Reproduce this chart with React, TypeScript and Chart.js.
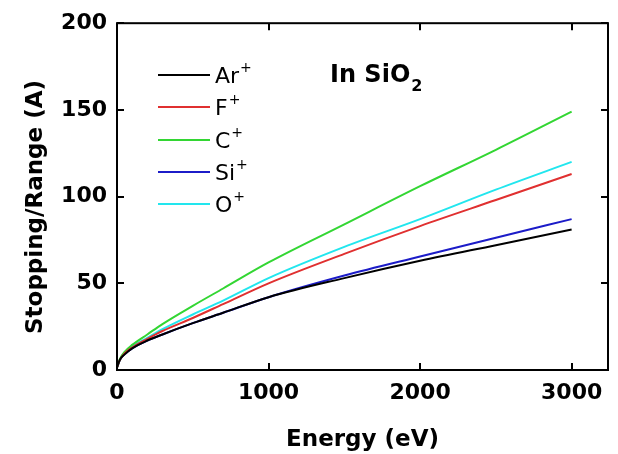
import React, { useEffect, useRef } from 'react';
import { Chart, registerables } from 'chart.js';

Chart.register(...registerables);

const energies = [0, 20, 50, 100, 200, 300, 500, 700, 1000, 1500, 2000, 2500, 3000];
const arValues = [1.5, 6, 9, 12.5, 17, 20.5, 27, 33, 42, 53, 63, 72, 81];
const fValues = [1.5, 6, 9.5, 13, 18, 22.5, 30, 38, 50, 67, 83, 98, 113];
const cValues = [1.5, 6.5, 10.5, 14.5, 20.5, 26.5, 37, 47, 62, 84, 106, 127, 149];
const siValues = [1.5, 6, 9, 12.5, 17, 20.5, 27, 33, 42, 54.5, 65.5, 76.3, 87];
const oValues = [1.5, 6, 10, 13.5, 18.5, 23.5, 32, 40, 53, 71, 87, 104, 120];

const seriesNames = ['Ar', 'F', 'C', 'Si', 'O'];
const seriesColors = ['#000000', '#e03030', '#33d633', '#1c1cc8', '#22e6ee'];
const seriesValues = [arValues, fValues, cValues, siValues, oValues];

const xTicks = [0, 1000, 2000, 3000];
const yTicks = [0, 50, 100, 150, 200];
const xTitle = 'Energy (eV)';
const yTitle = 'Stopping/Range (A)';
const noteMain = 'In SiO';
const noteSub = '2';

const decorPlugin = {
  id: 'decor',
  afterDraw(chart: any) {
    const ctx = chart.ctx as CanvasRenderingContext2D;
    const { left, right, top, bottom } = chart.chartArea;
    const xs = chart.scales.x;
    const ys = chart.scales.y;
    ctx.save();
    // frame
    ctx.strokeStyle = '#000';
    ctx.lineWidth = 2;
    ctx.strokeRect(left, top, right - left, bottom - top);
    // inward ticks
    const tl = 7;
    ctx.beginPath();
    xTicks.forEach((v) => {
      const px = Math.round(xs.getPixelForValue(v));
      ctx.moveTo(px, bottom);
      ctx.lineTo(px, bottom - tl);
      ctx.moveTo(px, top);
      ctx.lineTo(px, top + tl);
    });
    yTicks.forEach((v) => {
      const py = Math.round(ys.getPixelForValue(v));
      ctx.moveTo(left, py);
      ctx.lineTo(left + tl, py);
      ctx.moveTo(right, py);
      ctx.lineTo(right - tl, py);
    });
    ctx.stroke();

    // axis titles
    ctx.fillStyle = '#000';
    ctx.font = 'bold 23px "DejaVu Sans"';
    ctx.textAlign = 'center';
    ctx.textBaseline = 'middle';
    ctx.fillText(xTitle, (left + right) / 2, 440);
    ctx.save();
    ctx.translate(36, 207);
    ctx.rotate(-Math.PI / 2);
    ctx.fillText(yTitle, 0, 0);
    ctx.restore();

    // legend
    const rowY = [75, 107, 140, 172, 204];
    ctx.textAlign = 'left';
    ctx.textBaseline = 'alphabetic';
    seriesNames.forEach((name, i) => {
      const y = rowY[i];
      ctx.strokeStyle = seriesColors[i];
      ctx.lineWidth = 2;
      ctx.beginPath();
      ctx.moveTo(158, y);
      ctx.lineTo(210, y);
      ctx.stroke();
      ctx.fillStyle = '#000';
      ctx.font = '22px "DejaVu Sans"';
      ctx.fillText(name, 215, y + 8);
      const w = ctx.measureText(name).width;
      ctx.font = '14px "DejaVu Sans"';
      ctx.fillText('+', 215 + w + 1, y - 3);
    });

    // annotation
    ctx.font = 'bold 24px "DejaVu Sans"';
    ctx.fillText(noteMain, 330, 82);
    const nw = ctx.measureText(noteMain).width;
    ctx.font = 'bold 16px "DejaVu Sans"';
    ctx.fillText(noteSub, 330 + nw + 1, 91);
    ctx.restore();
  },
};

export default function App() {
  const ref = useRef<HTMLCanvasElement | null>(null);
  useEffect(() => {
    if (!ref.current) return;
    const chart = new Chart(ref.current, {
      type: 'line',
      data: {
        datasets: seriesNames.map((name, i) => ({
          label: name + '+',
          data: energies.map((e, j) => ({ x: e, y: seriesValues[i][j] })),
          borderColor: seriesColors[i],
          backgroundColor: seriesColors[i],
          borderWidth: 2,
          pointRadius: 0,
          cubicInterpolationMode: 'monotone' as const,
          fill: false,
        })),
      },
      options: {
        animation: false,
        responsive: false,
        layout: { padding: { left: 0, top: 20, right: 10, bottom: 0 } },
        plugins: { legend: { display: false }, tooltip: { enabled: false } },
        scales: {
          x: {
            type: 'linear',
            min: 0,
            max: 3240,
            afterBuildTicks: (s: any) => {
              s.ticks = xTicks.map((v) => ({ value: v }));
            },
            afterFit: (s: any) => {
              s.height = 84;
            },
            grid: { display: false, drawTicks: false },
            border: { display: false },
            ticks: {
              color: '#000',
              font: { family: 'DejaVu Sans', size: 22, weight: 'bold' },
              padding: 10,
              maxRotation: 0,
              autoSkip: false,
              callback: (v: any) => String(v),
            },
          },
          y: {
            type: 'linear',
            min: 0,
            max: 200,
            afterBuildTicks: (s: any) => {
              s.ticks = yTicks.map((v) => ({ value: v }));
            },
            afterFit: (s: any) => {
              s.width = 117;
            },
            grid: { display: false, drawTicks: false },
            border: { display: false },
            ticks: {
              color: '#000',
              font: { family: 'DejaVu Sans', size: 22, weight: 'bold' },
              padding: 10,
              autoSkip: false,
              callback: (v: any) => String(v),
            },
          },
        },
      },
      plugins: [decorPlugin],
    });
    return () => chart.destroy();
  }, []);
  return (
    <div style={{ position: 'fixed', left: 0, top: 0, width: 618, height: 454, background: '#fff' }}>
      <canvas ref={ref} width={618} height={454} />
    </div>
  );
}
